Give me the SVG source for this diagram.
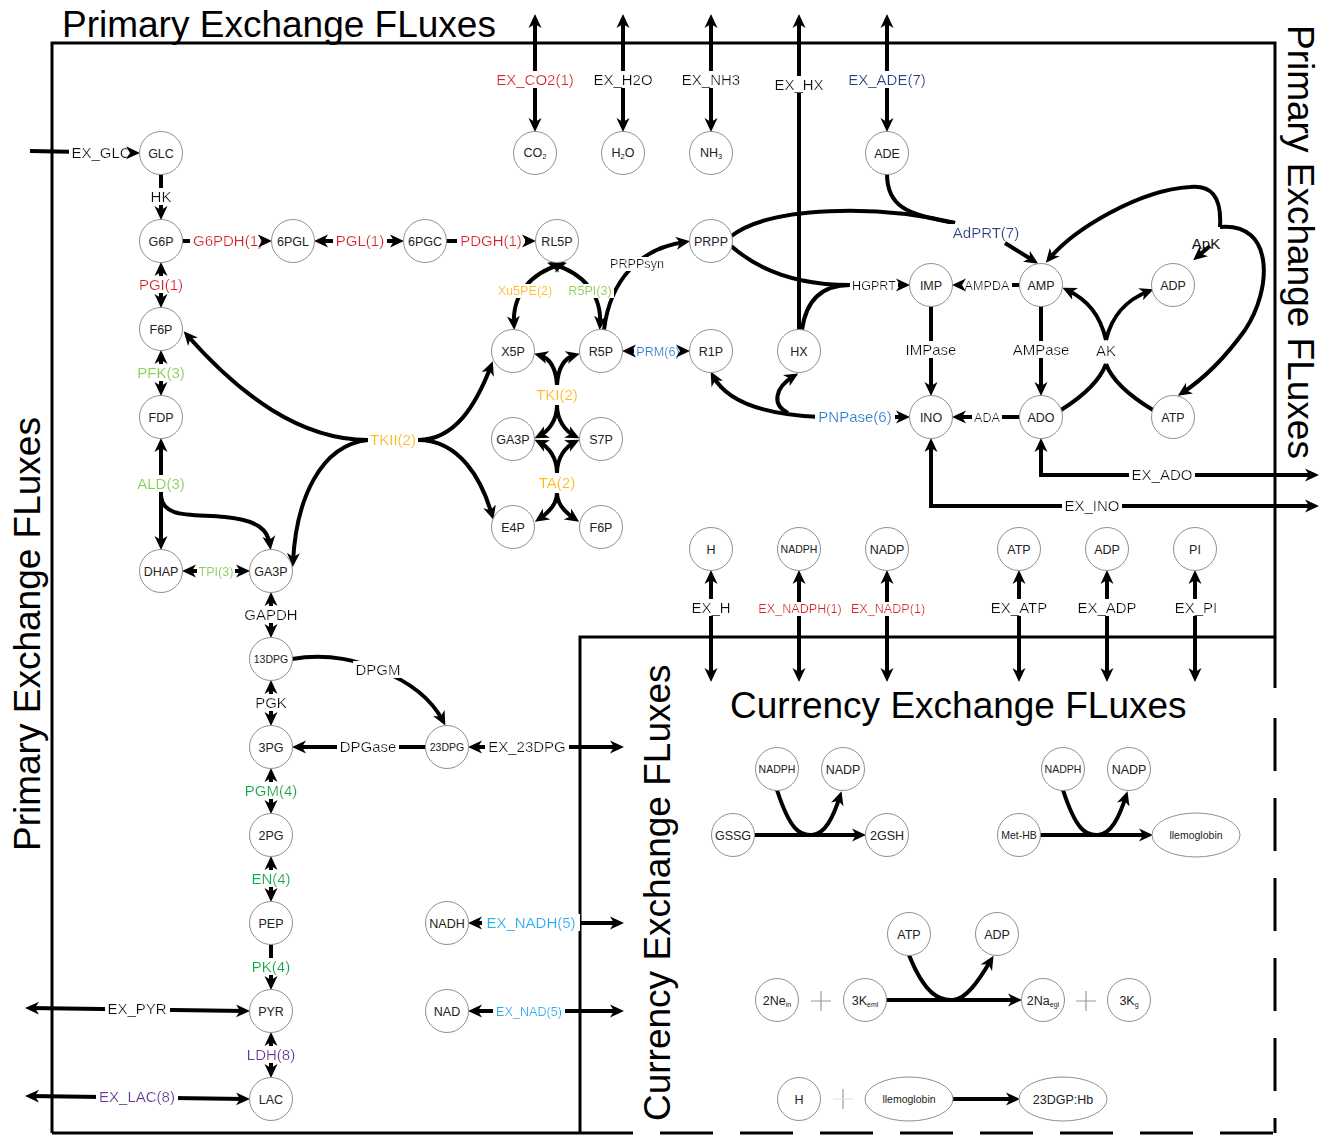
<svg xmlns="http://www.w3.org/2000/svg" width="1327" height="1135" viewBox="0 0 1327 1135">
<style>
.nd circle,.nd ellipse{fill:#fff;stroke:#8f8f8f;stroke-width:1}
.nd text{font-family:"Liberation Sans",Arial,sans-serif;font-size:12.5px;fill:#222;text-anchor:middle}
.nd text.s{font-size:10.5px}
.c{fill:none;stroke:#000;stroke-width:4}
.m{fill:none;stroke:none}
.e{marker-end:url(#ah)}
.b{marker-start:url(#ah);marker-end:url(#ah)}
.lb{font-family:"Liberation Sans",Arial,sans-serif;font-size:15px;text-anchor:middle;fill:#111;filter:url(#bg)}
.sm{font-size:12.6px}
.red{fill:#DA2128}.lg{fill:#92D050}.gr{fill:#00B050}.or{fill:#FFC000}.bl{fill:#1F86D6}.nv{fill:#203F8C}.cy{fill:#1EB4EE}.pu{fill:#7030A0}
.fr{fill:none;stroke:#000;stroke-width:3}
.ti{font-family:"Liberation Sans",Arial,sans-serif;font-size:37px;fill:#000}
.pl{stroke:#9a9a9a;stroke-width:1.2;fill:none}
</style>
<defs>
<marker id="ah" viewBox="0 0 14 14" refX="9" refY="7" markerWidth="14" markerHeight="14" markerUnits="userSpaceOnUse" orient="auto-start-reverse">
<path d="M0,0.5 L14,7 L0,13.5 L4,7 z" fill="#000"/>
</marker>
<filter id="bg" x="-0.04" y="0" width="1.08" height="1">
<feFlood flood-color="#ffffff"/>
<feComposite in="SourceGraphic" operator="over"/>
</filter>
</defs>
<rect x="0" y="0" width="1327" height="1135" fill="#fff"/>

<g id="frames">
<path class="fr" d="M52,1133 L52,43 L1275,43 L1275,688"/>
<path class="fr" d="M52,1133 L580,1133"/>
<path class="fr" d="M580,1133 L1275,1133" stroke-dasharray="53 27"/>
<path class="fr" d="M1275,718 L1275,1133" stroke-dasharray="53 27"/>
<path class="fr" d="M580,1133 L580,637 L1275,637"/>
</g>
<g id="titles">
<text class="ti" x="62" y="37">Primary Exchange FLuxes</text>
<text class="ti" transform="translate(1288,25) rotate(90)">Primary Exchange FLuxes</text>
<text class="ti" transform="translate(40,851) rotate(-90)">Primary Exchange FLuxes</text>
<text class="ti" transform="translate(670,1121) rotate(-90)">Currency Exchange FLuxes</text>
<text class="ti" x="730" y="718">Currency Exchange FLuxes</text>
</g>

<g id="connectors">
<g id="lines">
<path class="c" d="M30,151 L135,153"/>
<path class="c" d="M161,174 L161,215"/>
<path class="c" d="M161,267 L161,303"/>
<path class="c" d="M161,355 L161,391"/>
<path class="c" d="M161,443 L161,545"/>
<path class="c" d="M161,496 C163,518 190,514 225,517 C258,520 268,530 270,545"/>
<path class="c" d="M187,571 L245,571"/>
<path class="c" d="M271,597 L271,633"/>
<path class="c" d="M271,685 L271,721"/>
<path class="c" d="M271,773 L271,809"/>
<path class="c" d="M271,861 L271,897"/>
<path class="c" d="M271,944 L271,985"/>
<path class="c" d="M271,1037 L271,1073"/>
<path class="c" d="M30,1008 L245,1011"/>
<path class="c" d="M30,1096 L245,1099"/>
<path class="c" d="M292,659 C330,652 360,662 380,670 C410,682 432,700 443,721"/>
<path class="c" d="M426,747 L297,747"/>
<path class="c" d="M473,747 L619,747"/>
<path class="c" d="M473,923 L619,923"/>
<path class="c" d="M473,1011 L619,1011"/>
<path class="c" d="M182,241 L267,241"/>
<path class="c" d="M319,241 L399,241"/>
<path class="c" d="M446,241 L531,241"/>
<path class="c" d="M514,325 C512,295 530,273 562,264"/>
<path class="c" d="M600,325 C602,295 584,273 552,264"/>
<path class="c" d="M557,385 C556,368 550,358 539,355"/>
<path class="c" d="M557,385 C558,368 564,358 575,355"/>
<path class="c" d="M557,405 C557,420 549,431 539,436"/>
<path class="c" d="M557,405 C557,420 565,431 575,436"/>
<path class="c" d="M557,473 C557,458 549,447 539,442"/>
<path class="c" d="M557,473 C557,458 565,447 575,442"/>
<path class="c" d="M557,493 C557,505 548,513 539,519"/>
<path class="c" d="M557,493 C557,505 566,513 575,519"/>
<path class="c" d="M368,440 C300,440 240,395 187,335"/>
<path class="c" d="M368,440 C320,445 296,500 293,562"/>
<path class="c" d="M418,440 C455,440 476,405 491,366"/>
<path class="c" d="M418,440 C460,440 482,480 492,515"/>
<path class="c" d="M604,330 C610,280 640,248 685,242"/>
<path class="c" d="M627,351 L685,351"/>
<path class="c" d="M730,245 C760,272 800,285 850,285"/>
<path class="c" d="M802,330 C806,300 822,285 850,285"/>
<path class="c" d="M845,285 L905,285"/>
<path class="c" d="M730,237 C770,205 880,205 955,223"/>
<path class="c" d="M887,174 C887,205 905,215 955,223"/>
<path class="c" d="M1005,243 L1034,261"/>
<path class="c" d="M1220,227 C1222,195 1210,185 1190,187 C1140,190 1075,228 1049,259"/>
<path class="c" d="M1220,227 C1275,222 1272,290 1245,330 C1222,362 1202,380 1182,393"/>
<path class="c" d="M1210,246 L1197,257"/>
<path class="c" d="M1061,410 C1085,395 1100,380 1106,364"/>
<path class="c" d="M1153,410 C1128,395 1112,380 1106,364"/>
<path class="c" d="M1106,340 C1100,315 1088,300 1067,290"/>
<path class="c" d="M1106,340 C1112,315 1126,300 1149,291"/>
<path class="c" d="M1019,285 L957,285"/>
<path class="c" d="M1019,417 L957,417"/>
<path class="c" d="M1041,306 L1041,391"/>
<path class="c" d="M931,306 L931,391"/>
<path class="c" d="M820,417 L905,417"/>
<path class="c" d="M820,417 C770,415 728,404 713,376"/>
<path class="c" d="M788,413 C772,405 774,388 794,376"/>
<path class="c" d="M1041,443 L1041,475 L1314,475"/>
<path class="c" d="M931,443 L931,506 L1314,506"/>
<path class="c" d="M535,127 L535,19"/>
<path class="c" d="M623,127 L623,19"/>
<path class="c" d="M711,127 L711,19"/>
<path class="c" d="M799,330 L799,19"/>
<path class="c" d="M887,127 L887,19"/>
<path class="c" d="M711,575 L711,677"/>
<path class="c" d="M799,575 L799,677"/>
<path class="c" d="M887,575 L887,677"/>
<path class="c" d="M1019,575 L1019,677"/>
<path class="c" d="M1107,575 L1107,677"/>
<path class="c" d="M1195,575 L1195,677"/>
<path class="c" d="M755,835 L861,835"/>
<path class="c" d="M777,790 C790,830 800,836 812,835 C825,834 833,818 840,796"/>
<path class="c" d="M1040,835 L1148,835"/>
<path class="c" d="M1063,790 C1076,830 1086,836 1098,835 C1111,834 1119,818 1126,796"/>
<path class="c" d="M886,1000 L1017,1000"/>
<path class="c" d="M909,955 C925,995 940,1001 953,1000 C966,999 978,982 991,960"/>
<path class="c" d="M953,1099 L1015,1099"/>
<path class="pl" d="M811,1001 L831,1001 M821,991 L821,1011"/>
<path class="pl" d="M1076,1001 L1096,1001 M1086,991 L1086,1011"/>
<path class="pl" d="M843,1089 L843,1109"/>
<path d="M833,1099 L853,1099" stroke="#dddddd" stroke-width="1"/>
</g>

<g id="labels">
<text class="lb" x="101" y="158">EX_GLC</text>
<text class="lb" x="161" y="202">HK</text>
<text class="lb red" x="161" y="290">PGI(1)</text>
<text class="lb lg" x="161" y="378">PFK(3)</text>
<text class="lb lg" x="161" y="489">ALD(3)</text>
<text class="lb lg sm" x="216" y="576">TPI(3)</text>
<text class="lb" x="271" y="620">GAPDH</text>
<text class="lb" x="271" y="708">PGK</text>
<text class="lb gr" x="271" y="796">PGM(4)</text>
<text class="lb gr" x="271" y="884">EN(4)</text>
<text class="lb gr" x="271" y="972">PK(4)</text>
<text class="lb pu" x="271" y="1060">LDH(8)</text>
<text class="lb" x="137" y="1014">EX_PYR</text>
<text class="lb pu" x="137" y="1102">EX_LAC(8)</text>
<text class="lb red" x="228" y="246">G6PDH(1)</text>
<text class="lb red" x="360" y="246">PGL(1)</text>
<text class="lb red" x="491" y="246">PDGH(1)</text>
<text class="lb or sm" x="525" y="295">Xu5PE(2)</text>
<text class="lb lg sm" x="590" y="295">R5PI(3)</text>
<text class="lb sm" x="637" y="268">PRPPsyn</text>
<text class="lb or" x="557" y="400">TKI(2)</text>
<text class="lb or" x="557" y="488">TA(2)</text>
<text class="lb or" x="393" y="445">TKII(2)</text>
<text class="lb bl sm" x="658" y="356">PRM(6)</text>
<text class="lb" x="378" y="675">DPGM</text>
<text class="lb" x="368" y="752">DPGase</text>
<text class="lb" x="527" y="752" font-size="12.8">EX_23DPG</text>
<text class="lb cy" x="531" y="928" font-size="12.8">EX_NADH(5)</text>
<text class="lb cy sm" x="529" y="1016">EX_NAD(5)</text>
<text class="lb red" x="535" y="85">EX_CO2(1)</text>
<text class="lb" x="623" y="85">EX_H2O</text>
<text class="lb" x="711" y="85">EX_NH3</text>
<text class="lb" x="799" y="90">EX_HX</text>
<text class="lb nv" x="887" y="85">EX_ADE(7)</text>
<text class="lb nv" x="986" y="238" font-size="13.6">AdPRT(7)</text>
<text class="lb sm" x="874" y="290">HGPRT</text>
<text class="lb sm" x="987" y="290">AMPDA</text>
<text x="1206" y="249" font-family="Liberation Sans, Arial, sans-serif" font-size="15" text-anchor="middle" fill="#111">ApK</text>
<text class="lb" x="931" y="355">IMPase</text>
<text class="lb" x="1041" y="355">AMPase</text>
<text class="lb" x="1106" y="356">AK</text>
<text class="lb bl" x="855" y="422" font-size="14.3">PNPase(6)</text>
<text class="lb sm" x="987" y="422">ADA</text>
<text class="lb" x="1162" y="480">EX_ADO</text>
<text class="lb" x="1092" y="511">EX_INO</text>
<text class="lb" x="711" y="613">EX_H</text>
<text class="lb red sm" x="800" y="613">EX_NADPH(1)</text>
<text class="lb red sm" x="888" y="613">EX_NADP(1)</text>
<text class="lb" x="1019" y="613">EX_ATP</text>
<text class="lb" x="1107" y="613">EX_ADP</text>
<text class="lb" x="1196" y="613">EX_PI</text>
</g>

<g id="arrowheads">
<path class="m e" d="M30,151 L135,153"/>
<path class="m e" d="M161,174 L161,215"/>
<path class="m b" d="M161,267 L161,303"/>
<path class="m b" d="M161,355 L161,391"/>
<path class="m b" d="M161,443 L161,545"/>
<path class="m e" d="M161,496 C163,518 190,514 225,517 C258,520 268,530 270,545"/>
<path class="m b" d="M187,571 L245,571"/>
<path class="m b" d="M271,597 L271,633"/>
<path class="m b" d="M271,685 L271,721"/>
<path class="m b" d="M271,773 L271,809"/>
<path class="m b" d="M271,861 L271,897"/>
<path class="m e" d="M271,944 L271,985"/>
<path class="m b" d="M271,1037 L271,1073"/>
<path class="m b" d="M30,1008 L245,1011"/>
<path class="m b" d="M30,1096 L245,1099"/>
<path class="m e" d="M292,659 C330,652 360,662 380,670 C410,682 432,700 443,721"/>
<path class="m e" d="M426,747 L297,747"/>
<path class="m b" d="M473,747 L619,747"/>
<path class="m b" d="M473,923 L619,923"/>
<path class="m b" d="M473,1011 L619,1011"/>
<path class="m e" d="M182,241 L267,241"/>
<path class="m b" d="M319,241 L399,241"/>
<path class="m e" d="M446,241 L531,241"/>
<path class="m b" d="M514,325 C512,295 530,273 562,264"/>
<path class="m b" d="M600,325 C602,295 584,273 552,264"/>
<path class="m e" d="M557,385 C556,368 550,358 539,355"/>
<path class="m e" d="M557,385 C558,368 564,358 575,355"/>
<path class="m e" d="M557,405 C557,420 549,431 539,436"/>
<path class="m e" d="M557,405 C557,420 565,431 575,436"/>
<path class="m e" d="M557,473 C557,458 549,447 539,442"/>
<path class="m e" d="M557,473 C557,458 565,447 575,442"/>
<path class="m e" d="M557,493 C557,505 548,513 539,519"/>
<path class="m e" d="M557,493 C557,505 566,513 575,519"/>
<path class="m e" d="M368,440 C300,440 240,395 187,335"/>
<path class="m e" d="M368,440 C320,445 296,500 293,562"/>
<path class="m e" d="M418,440 C455,440 476,405 491,366"/>
<path class="m e" d="M418,440 C460,440 482,480 492,515"/>
<path class="m e" d="M604,330 C610,280 640,248 685,242"/>
<path class="m b" d="M627,351 L685,351"/>
<path class="m e" d="M845,285 L905,285"/>
<path class="m e" d="M1005,243 L1034,261"/>
<path class="m e" d="M1220,227 C1222,195 1210,185 1190,187 C1140,190 1075,228 1049,259"/>
<path class="m e" d="M1220,227 C1275,222 1272,290 1245,330 C1222,362 1202,380 1182,393"/>
<path class="m e" d="M1210,246 L1197,257"/>
<path class="m e" d="M1106,340 C1100,315 1088,300 1067,290"/>
<path class="m e" d="M1106,340 C1112,315 1126,300 1149,291"/>
<path class="m e" d="M1019,285 L957,285"/>
<path class="m e" d="M1019,417 L957,417"/>
<path class="m e" d="M1041,306 L1041,391"/>
<path class="m e" d="M931,306 L931,391"/>
<path class="m e" d="M820,417 L905,417"/>
<path class="m e" d="M820,417 C770,415 728,404 713,376"/>
<path class="m e" d="M788,413 C772,405 774,388 794,376"/>
<path class="m b" d="M1041,443 L1041,475 L1314,475"/>
<path class="m b" d="M931,443 L931,506 L1314,506"/>
<path class="m b" d="M535,127 L535,19"/>
<path class="m b" d="M623,127 L623,19"/>
<path class="m b" d="M711,127 L711,19"/>
<path class="m e" d="M799,330 L799,19"/>
<path class="m b" d="M887,127 L887,19"/>
<path class="m b" d="M711,575 L711,677"/>
<path class="m b" d="M799,575 L799,677"/>
<path class="m b" d="M887,575 L887,677"/>
<path class="m b" d="M1019,575 L1019,677"/>
<path class="m b" d="M1107,575 L1107,677"/>
<path class="m b" d="M1195,575 L1195,677"/>
<path class="m e" d="M755,835 L861,835"/>
<path class="m e" d="M777,790 C790,830 800,836 812,835 C825,834 833,818 840,796"/>
<path class="m e" d="M1040,835 L1148,835"/>
<path class="m e" d="M1063,790 C1076,830 1086,836 1098,835 C1111,834 1119,818 1126,796"/>
<path class="m e" d="M886,1000 L1017,1000"/>
<path class="m e" d="M909,955 C925,995 940,1001 953,1000 C966,999 978,982 991,960"/>
<path class="m e" d="M953,1099 L1015,1099"/>
</g>
</g>

<g id="n-GLC" class="nd"><circle cx="161" cy="153" r="21.5"/><text x="161" y="157.5">GLC</text></g>
<g id="n-G6P" class="nd"><circle cx="161" cy="241" r="21.5"/><text x="161" y="245.5">G6P</text></g>
<g id="n-6PGL" class="nd"><circle cx="293" cy="241" r="21.5"/><text x="293" y="245.5">6PGL</text></g>
<g id="n-6PGC" class="nd"><circle cx="425" cy="241" r="21.5"/><text x="425" y="245.5">6PGC</text></g>
<g id="n-RL5P" class="nd"><circle cx="557" cy="241" r="21.5"/><text x="557" y="245.5">RL5P</text></g>
<g id="n-F6P" class="nd"><circle cx="161" cy="329" r="21.5"/><text x="161" y="333.5">F6P</text></g>
<g id="n-FDP" class="nd"><circle cx="161" cy="417" r="21.5"/><text x="161" y="421.5">FDP</text></g>
<g id="n-DHAP" class="nd"><circle cx="161" cy="571" r="21.5"/><text x="161" y="575.5">DHAP</text></g>
<g id="n-GA3P" class="nd"><circle cx="271" cy="571" r="21.5"/><text x="271" y="575.5">GA3P</text></g>
<g id="n-13DPG" class="nd"><circle cx="271" cy="659" r="21.5"/><text class="s" x="271" y="663">13DPG</text></g>
<g id="n-3PG" class="nd"><circle cx="271" cy="747" r="21.5"/><text x="271" y="751.5">3PG</text></g>
<g id="n-2PG" class="nd"><circle cx="271" cy="835" r="21.5"/><text x="271" y="839.5">2PG</text></g>
<g id="n-PEP" class="nd"><circle cx="271" cy="923" r="21.5"/><text x="271" y="927.5">PEP</text></g>
<g id="n-PYR" class="nd"><circle cx="271" cy="1011" r="21.5"/><text x="271" y="1015.5">PYR</text></g>
<g id="n-LAC" class="nd"><circle cx="271" cy="1099" r="21.5"/><text x="271" y="1103.5">LAC</text></g>
<g id="n-23DPG" class="nd"><circle cx="447" cy="747" r="21.5"/><text class="s" x="447" y="751">23DPG</text></g>
<g id="n-X5P" class="nd"><circle cx="513" cy="351" r="21.5"/><text x="513" y="355.5">X5P</text></g>
<g id="n-R5P" class="nd"><circle cx="601" cy="351" r="21.5"/><text x="601" y="355.5">R5P</text></g>
<g id="n-GA3P-2" class="nd"><circle cx="513" cy="439" r="21.5"/><text x="513" y="443.5">GA3P</text></g>
<g id="n-S7P" class="nd"><circle cx="601" cy="439" r="21.5"/><text x="601" y="443.5">S7P</text></g>
<g id="n-E4P" class="nd"><circle cx="513" cy="527" r="21.5"/><text x="513" y="531.5">E4P</text></g>
<g id="n-F6P-2" class="nd"><circle cx="601" cy="527" r="21.5"/><text x="601" y="531.5">F6P</text></g>
<g id="n-CO2" class="nd"><circle cx="535" cy="153" r="21.5"/><text x="535" y="157" font-size="11.5">CO<tspan font-size="7.5" dy="2">2</tspan></text></g>
<g id="n-H2O" class="nd"><circle cx="623" cy="153" r="21.5"/><text x="623" y="157" font-size="11.5">H<tspan font-size="7.5" dy="2">2</tspan><tspan dy="-2">O</tspan></text></g>
<g id="n-NH3" class="nd"><circle cx="711" cy="153" r="21.5"/><text x="711" y="157" font-size="11.5">NH<tspan font-size="7.5" dy="2">3</tspan></text></g>
<g id="n-ADE" class="nd"><circle cx="887" cy="153" r="21.5"/><text x="887" y="157.5">ADE</text></g>
<g id="n-PRPP" class="nd"><circle cx="711" cy="241" r="21.5"/><text x="711" y="245.5">PRPP</text></g>
<g id="n-R1P" class="nd"><circle cx="711" cy="351" r="21.5"/><text x="711" y="355.5">R1P</text></g>
<g id="n-HX" class="nd"><circle cx="799" cy="351" r="21.5"/><text x="799" y="355.5">HX</text></g>
<g id="n-IMP" class="nd"><circle cx="931" cy="285" r="21.5"/><text x="931" y="289.5">IMP</text></g>
<g id="n-AMP" class="nd"><circle cx="1041" cy="285" r="21.5"/><text x="1041" y="289.5">AMP</text></g>
<g id="n-ADP" class="nd"><circle cx="1173" cy="285" r="21.5"/><text x="1173" y="289.5">ADP</text></g>
<g id="n-INO" class="nd"><circle cx="931" cy="417" r="21.5"/><text x="931" y="421.5">INO</text></g>
<g id="n-ADO" class="nd"><circle cx="1041" cy="417" r="21.5"/><text x="1041" y="421.5">ADO</text></g>
<g id="n-ATP" class="nd"><circle cx="1173" cy="417" r="21.5"/><text x="1173" y="421.5">ATP</text></g>
<g id="n-H" class="nd"><circle cx="711" cy="549" r="21.5"/><text x="711" y="553.5">H</text></g>
<g id="n-NADPH" class="nd"><circle cx="799" cy="549" r="21.5"/><text class="s" x="799" y="553">NADPH</text></g>
<g id="n-NADP" class="nd"><circle cx="887" cy="549" r="21.5"/><text x="887" y="553.5">NADP</text></g>
<g id="n-ATP-2" class="nd"><circle cx="1019" cy="549" r="21.5"/><text x="1019" y="553.5">ATP</text></g>
<g id="n-ADP-2" class="nd"><circle cx="1107" cy="549" r="21.5"/><text x="1107" y="553.5">ADP</text></g>
<g id="n-PI" class="nd"><circle cx="1195" cy="549" r="21.5"/><text x="1195" y="553.5">PI</text></g>
<g id="n-NADH" class="nd"><circle cx="447" cy="923" r="21.5"/><text x="447" y="927.5">NADH</text></g>
<g id="n-NAD" class="nd"><circle cx="447" cy="1011" r="21.5"/><text x="447" y="1015.5">NAD</text></g>
<g id="n-NADPH-c1" class="nd"><circle cx="777" cy="769" r="21.5"/><text class="s" x="777" y="773">NADPH</text></g>
<g id="n-NADP-c1" class="nd"><circle cx="843" cy="769" r="21.5"/><text x="843" y="773.5">NADP</text></g>
<g id="n-GSSG" class="nd"><circle cx="733" cy="835" r="21.5"/><text x="733" y="839.5">GSSG</text></g>
<g id="n-2GSH" class="nd"><circle cx="887" cy="835" r="21.5"/><text x="887" y="839.5">2GSH</text></g>
<g id="n-NADPH-c2" class="nd"><circle cx="1063" cy="769" r="21.5"/><text class="s" x="1063" y="773">NADPH</text></g>
<g id="n-NADP-c2" class="nd"><circle cx="1129" cy="769" r="21.5"/><text x="1129" y="773.5">NADP</text></g>
<g id="n-MetHB" class="nd"><circle cx="1019" cy="835" r="21.5"/><text class="s" x="1019" y="839">Met-HB</text></g>
<g id="n-Hb1" class="nd"><ellipse cx="1196" cy="835" rx="44" ry="22"/><text class="s" x="1196" y="839">llemoglobin</text></g>
<g id="n-ATP-c" class="nd"><circle cx="909" cy="934" r="21.5"/><text x="909" y="938.5">ATP</text></g>
<g id="n-ADP-c" class="nd"><circle cx="997" cy="934" r="21.5"/><text x="997" y="938.5">ADP</text></g>
<g id="n-2Ne" class="nd"><circle cx="777" cy="1000" r="21.5"/><text x="777" y="1004.5">2Ne<tspan font-size="7" dy="2">in</tspan></text></g>
<g id="n-3Keml" class="nd"><circle cx="865" cy="1000" r="21.5"/><text x="865" y="1004.5">3K<tspan font-size="7" dy="2">eml</tspan></text></g>
<g id="n-2Na" class="nd"><circle cx="1043" cy="1000" r="21.5"/><text x="1043" y="1004.5">2Na<tspan font-size="7" dy="2">egl</tspan></text></g>
<g id="n-3Kg" class="nd"><circle cx="1129" cy="1000" r="21.5"/><text x="1129" y="1004.5">3K<tspan font-size="7" dy="2">g</tspan></text></g>
<g id="n-H-c" class="nd"><circle cx="799" cy="1099" r="21.5"/><text x="799" y="1103.5">H</text></g>
<g id="n-Hb2" class="nd"><ellipse cx="909" cy="1099" rx="44" ry="22"/><text class="s" x="909" y="1103">llemoglobin</text></g>
<g id="n-23DGPHb" class="nd"><ellipse cx="1063" cy="1099" rx="44" ry="22"/><text x="1063" y="1103.5">23DGP:Hb</text></g>
</svg>
